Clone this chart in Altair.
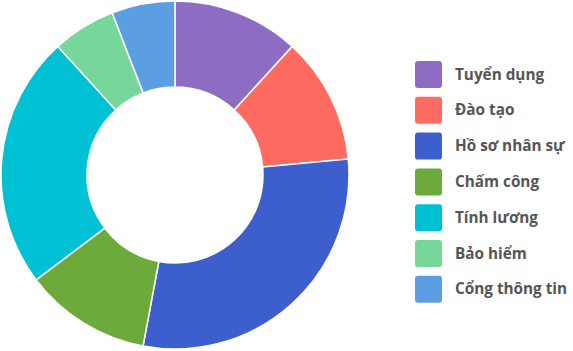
import altair as alt
import pandas as pd

categories = ["Tuyển dụng", "Đào tạo", "Hồ sơ nhân sự", "Chấm công", "Tính lương", "Bảo hiểm", "Cổng thông tin"]
values = [2, 2, 5, 2, 4, 1, 1]
colors = ["#8E6CC4", "#FF6B61", "#3D5FCD", "#6DAA3C", "#00C1D4", "#77D69A", "#5B9FE2"]

df = pd.DataFrame({"cat": categories, "val": values, "ord": list(range(len(categories)))})

rounded = "M -0.78 -1 H 0.78 Q 1 -1 1 -0.78 V 0.78 Q 1 1 0.78 1 H -0.78 Q -1 1 -1 0.78 V -0.78 Q -1 -1 -0.78 -1 Z"

chart = alt.Chart(df).mark_arc(
    radius=174, radius2=88, stroke="white", strokeWidth=1.5
).encode(
    theta=alt.Theta("val:Q", stack=True),
    order=alt.Order("ord:Q"),
    x=alt.value(175),
    y=alt.value(175),
    color=alt.Color(
        "cat:N",
        scale=alt.Scale(domain=categories, range=colors),
        legend=alt.Legend(
            title=None,
            orient="none",
            legendX=415,
            legendY=61,
            symbolType=rounded,
            symbolSize=729,
            symbolStrokeWidth=0,
            symbolOpacity=1,
            labelOffset=13,
            rowPadding=8.8,
            labelFont="Open Sans",
            labelFontWeight="bold",
            labelFontSize=15.3,
            labelColor="#555555",
            labelLimit=200,
            padding=0,
        ),
    ),
).properties(
    width=573, height=351, padding=0, autosize=alt.AutoSizeParams(type="none")
).configure_view(stroke=None)

chart.save("out.html", embed_options={"renderer": "svg", "actions": False})
